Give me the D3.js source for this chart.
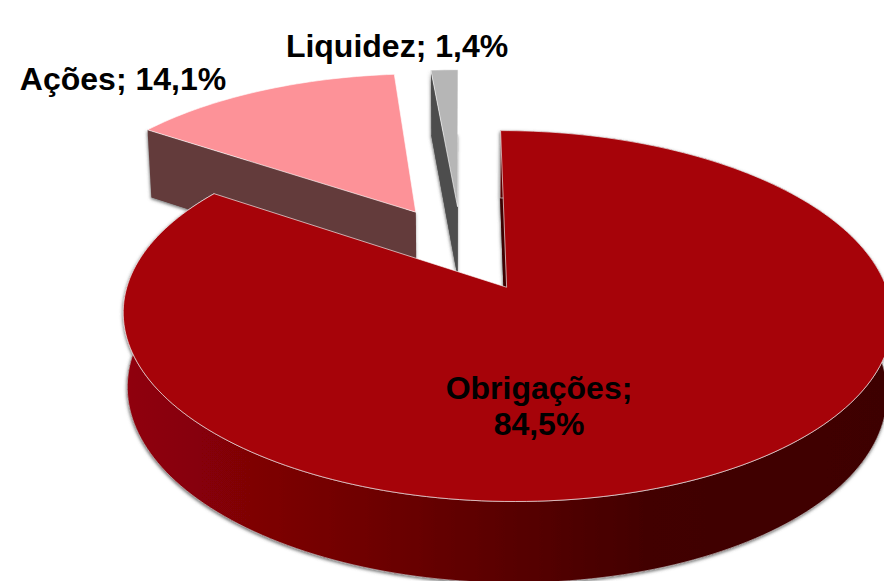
<!DOCTYPE html>
<html>
<head>
<meta charset="utf-8">
<script src="https://d3js.org/d3.v7.min.js"></script>
<style>
  html, body { margin: 0; padding: 0; background: #fff; }
  svg { display: block; }
  text { font-family: "Liberation Sans", Arial, sans-serif; font-weight: bold; font-size: 32px; fill: #000; }
</style>
</head>
<body>
<svg id="grafico" width="884" height="581"></svg>
<script>
const categorias = ['Obrigações', 'Ações', 'Liquidez'];
const valores = [84.5, 14.1, 1.4];

const w = 884;
const h = 581;

// projecao em perspectiva do disco
const cx = 461.5, cy = 248, fx = 367, fy = 169, k = 0.15;
const explosao = 0.254;
const altura = 72;
const encolhe = 0.988;

const coresTopo = ['#a60309', '#fd9298', '#b6b6b6'];
const coresLado = ['#3e0002', '#633a3a', '#4d4d4d'];
const posRotulos = [[539, 399], [123, 90], [397, 57]];

function topo(X, Y) {
  const d = 1 + k * Y;
  return { x: cx + fx * X / d, y: cy - fy * Y / d, d: d };
}

function base(X, Y) {
  const p = topo(X, Y);
  return [cx + (p.x - cx) * encolhe, p.y + altura / Math.pow(p.d, 0.6)];
}

const pie = d3.pie().sort(null).value(d => d);
const fatias = pie(valores).map(f => {
  const meio = (f.startAngle + f.endAngle) / 2;
  return {
    a0: f.startAngle,
    a1: f.endAngle,
    ax: explosao * Math.sin(meio),
    ay: explosao * Math.cos(meio)
  };
});

function arcoMundo(f) {
  const n = Math.max(4, Math.ceil((f.a1 - f.a0) * 40));
  const t = d3.scaleLinear().domain([0, n]).range([f.a0, f.a1]);
  return d3.range(n + 1).map(i => [f.ax + Math.sin(t(i)), f.ay + Math.cos(t(i))]);
}

const linha = d3.line();
const svg = d3.select('#grafico');
const defs = svg.append('defs');

const sombra = defs.append('filter').attr('id', 'sombra')
  .attr('filterUnits', 'userSpaceOnUse')
  .attr('x', 0).attr('y', 0).attr('width', w).attr('height', h + 40);
sombra.append('feDropShadow')
  .attr('dx', -0.5).attr('dy', 1.5).attr('stdDeviation', 1.6)
  .attr('flood-color', '#555').attr('flood-opacity', 0.8);

const grad = defs.append('linearGradient').attr('id', 'ladoPrincipal')
  .attr('gradientUnits', 'userSpaceOnUse')
  .attr('x1', 123).attr('x2', 884).attr('y1', 0).attr('y2', 0);
[[123, '#90000a'], [200, '#860007'], [300, '#780005'], [400, '#6a0004'], [500, '#5a0002'], [600, '#4a0002'], [650, '#420001'], [884, '#3e0000']]
  .forEach(s => grad.append('stop').attr('offset', (s[0] - 123) / 761).attr('stop-color', s[1]));

const xy = p => { const q = topo(p[0], p[1]); return [q.x, q.y]; };

// desenhar do fundo para a frente
[1, 2, 0].forEach(i => {
  const f = fatias[i];
  const g = svg.append('g');
  const arco = arcoMundo(f);
  const apice = [f.ax, f.ay];
  const a = arco[0];

  const corpo = g.append('g').attr('filter', 'url(#sombra)');

  // fundo da fatia
  corpo.append('path')
    .attr('d', linha([apice].concat(arco).map(p => base(p[0], p[1]))) + 'Z')
    .attr('fill', coresLado[i]);

  // parede interior
  corpo.append('path')
    .attr('d', linha([xy(apice), xy(a), base(a[0], a[1]), base(apice[0], apice[1])]) + 'Z')
    .attr('fill', coresLado[i]);

  if (i === 0) {
    const sup = arco.map(xy);
    const inf = arco.map(p => base(p[0], p[1])).reverse();
    corpo.append('path')
      .attr('d', linha(sup.concat(inf)) + 'Z')
      .attr('fill', 'url(#ladoPrincipal)')
      .attr('stroke', '#c8c8c8')
      .attr('stroke-width', 0.7);
  }

  g.append('path')
    .attr('d', linha([apice].concat(arco).map(xy)) + 'Z')
    .attr('fill', coresTopo[i])
    .attr('stroke', '#fff')
    .attr('stroke-opacity', 0.7)
    .attr('stroke-width', 0.9);
});

const fmt = v => v.toFixed(1).replace('.', ',') + '%';
const rotulos = svg.append('g').attr('text-anchor', 'middle');
categorias.forEach((c, i) => {
  const t = rotulos.append('text').attr('x', posRotulos[i][0]).attr('y', posRotulos[i][1]);
  if (i === 0) {
    t.append('tspan').text(c + ';');
    t.append('tspan').attr('x', posRotulos[i][0]).attr('dy', 36).text(fmt(valores[i]));
  } else {
    t.text(c + '; ' + fmt(valores[i]));
  }
});
</script>
</body>
</html>
